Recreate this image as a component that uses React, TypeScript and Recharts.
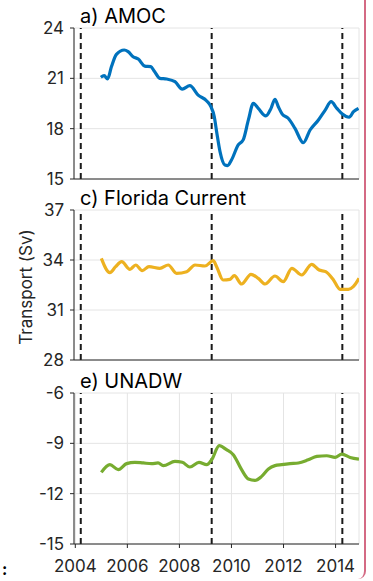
import React from 'react';
import { LineChart, Line, XAxis, YAxis, CartesianGrid, ReferenceLine } from 'recharts';

const xTicks = [2004, 2006, 2008, 2010, 2012, 2014];
const xDomain = [2003.95, 2014.9];
const eventYears = [2004.21, 2009.24, 2014.26];

const amocTicks = [15, 18, 21, 24];
const floridaTicks = [28, 31, 34, 37];
const unadwTicks = [-15, -12, -9, -6];

const amocYears = [2004.98, 2005.11, 2005.24, 2005.39, 2005.58, 2005.88, 2006.03, 2006.22, 2006.42, 2006.67, 2006.9, 2007.03, 2007.25, 2007.51, 2007.83, 2008.11, 2008.4, 2008.72, 2009.05, 2009.21, 2009.34, 2009.43, 2009.56, 2009.75, 2009.85, 2010.0, 2010.26, 2010.45, 2010.65, 2010.84, 2011.03, 2011.32, 2011.52, 2011.67, 2011.8, 2011.95, 2012.18, 2012.44, 2012.76, 2013.02, 2013.34, 2013.6, 2013.83, 2014.05, 2014.26, 2014.52, 2014.69, 2014.88];
const amocValues = [21.06, 21.16, 20.96, 21.7, 22.43, 22.69, 22.59, 22.29, 22.15, 21.73, 21.7, 21.44, 21.0, 20.96, 20.8, 20.36, 20.56, 20.0, 19.65, 19.31, 18.71, 17.82, 16.63, 15.83, 15.8, 16.13, 17.03, 17.33, 18.52, 19.51, 19.21, 18.76, 19.21, 19.75, 19.31, 18.87, 18.62, 18.02, 17.16, 17.92, 18.52, 19.11, 19.61, 19.21, 18.87, 18.68, 19.01, 19.21];

const floridaYears = [2005.0, 2005.33, 2005.55, 2005.78, 2006.1, 2006.32, 2006.57, 2006.83, 2007.25, 2007.57, 2007.89, 2008.28, 2008.6, 2008.98, 2009.3, 2009.43, 2009.68, 2009.94, 2010.11, 2010.39, 2010.75, 2011.03, 2011.29, 2011.67, 2011.99, 2012.32, 2012.7, 2013.08, 2013.37, 2013.62, 2013.92, 2014.17, 2014.49, 2014.68, 2014.9];
const floridaValues = [34.1, 33.24, 33.6, 33.9, 33.44, 33.7, 33.36, 33.6, 33.5, 33.7, 33.2, 33.3, 33.7, 33.64, 33.96, 33.6, 32.8, 32.84, 33.06, 32.56, 33.14, 32.9, 32.56, 33.04, 32.7, 33.5, 33.1, 33.74, 33.4, 33.3, 32.8, 32.24, 32.24, 32.4, 32.9];

const unadwYears = [2005.0, 2005.33, 2005.65, 2005.97, 2006.29, 2006.61, 2006.93, 2007.18, 2007.38, 2007.83, 2008.11, 2008.4, 2008.75, 2009.05, 2009.24, 2009.53, 2009.81, 2010.07, 2010.39, 2010.65, 2010.9, 2011.16, 2011.42, 2011.67, 2011.93, 2012.25, 2012.57, 2012.95, 2013.28, 2013.66, 2013.98, 2014.24, 2014.56, 2014.9];
const unadwValues = [-10.73, -10.27, -10.57, -10.21, -10.13, -10.17, -10.21, -10.17, -10.33, -10.08, -10.13, -10.41, -10.13, -10.27, -9.98, -9.14, -9.38, -9.68, -10.57, -11.13, -11.21, -10.97, -10.53, -10.33, -10.27, -10.21, -10.17, -9.98, -9.78, -9.74, -9.84, -9.64, -9.84, -9.94];

const FONT = 'Inter, "DejaVu Sans", sans-serif';
const AXIS = '#262626';
const GRID = '#e4e4e4';

const toPoints = (xs: number[], ys: number[]) => xs.map((x, i) => ({ x, y: ys[i] }));

type PanelProps = {
  top: number;
  height: number;
  marginTop: number;
  marginBottom: number;
  yTicks: number[];
  xs: number[];
  ys: number[];
  color: string;
  showXLabels: boolean;
  xAxisHeight: number;
};

function Panel({ top, height, marginTop, marginBottom, yTicks, xs, ys, color, showXLabels, xAxisHeight }: PanelProps) {
  const data = toPoints(xs, ys);
  return (
    <div style={{ position: 'absolute', left: 0, top, width: 373, height }}>
      <LineChart width={373} height={height} margin={{ top: marginTop, right: 14, bottom: marginBottom, left: 0 }}>
        <CartesianGrid stroke={GRID} strokeWidth={1} />
        <XAxis
          type="number"
          dataKey="x"
          domain={xDomain}
          ticks={xTicks}
          allowDataOverflow
          height={xAxisHeight}
          tickSize={4}
          tickMargin={showXLabels ? 12 : 0}
          axisLine={{ stroke: AXIS, strokeWidth: 1 }}
          tickLine={{ stroke: AXIS }}
          tick={showXLabels ? { fill: AXIS, fontSize: 17, fontFamily: FONT } : false}
          interval={0}
        />
        <YAxis
          type="number"
          domain={[yTicks[0], yTicks[yTicks.length - 1]]}
          ticks={yTicks}
          width={74}
          tickSize={4}
          tickMargin={6}
          axisLine={{ stroke: AXIS, strokeWidth: 1 }}
          tickLine={{ stroke: AXIS }}
          tick={{ fill: AXIS, fontSize: 17, fontFamily: FONT }}
          interval={0}
        />
        {eventYears.map((e) => (
          <ReferenceLine key={e} x={e} stroke="#1a1a1a" strokeWidth={2} strokeDasharray="6 4" />
        ))}
        <Line
          data={data}
          dataKey="y"
          type="monotone"
          stroke={color}
          strokeWidth={3.2}
          dot={false}
          isAnimationActive={false}
        />
      </LineChart>
    </div>
  );
}

export default function App() {
  return (
    <div style={{ position: 'absolute', left: 0, top: 0, width: 373, height: 581, background: '#fff', overflow: 'hidden' }}>
      <Panel top={0} height={197} marginTop={28} marginBottom={12} yTicks={amocTicks} xs={amocYears} ys={amocValues} color="#0072BD" showXLabels={false} xAxisHeight={6} />
      <Panel top={180} height={198} marginTop={30} marginBottom={12} yTicks={floridaTicks} xs={floridaYears} ys={floridaValues} color="#EDB120" showXLabels={false} xAxisHeight={6} />
      <Panel top={365} height={211} marginTop={28} marginBottom={0} yTicks={unadwTicks} xs={unadwYears} ys={unadwValues} color="#77AC30" showXLabels={true} xAxisHeight={32} />
      <svg width={373} height={581} style={{ position: 'absolute', left: 0, top: 0, pointerEvents: 'none' }}>
        <text x={80} y={23} fontSize={20} fontFamily={FONT} fill="#000">a) AMOC</text>
        <text x={80} y={205} fontSize={20} fontFamily={FONT} fill="#000">c) Florida Current</text>
        <text x={80} y={388} fontSize={20} fontFamily={FONT} fill="#000">e) UNADW</text>
        <text x={32} y={287} fontSize={17} fontFamily={FONT} fill={AXIS} textAnchor="middle" transform="rotate(-90 32 287)">Transport (Sv)</text>
        <text x={2} y={575} fontSize={16} fontWeight="bold" fontFamily={FONT} fill="#000">:</text>
      </svg>
      <div style={{ position: 'absolute', left: -12, top: -12, width: 378, height: 591, boxSizing: 'border-box', borderRight: '2px solid #d46a84', borderRadius: '0 8px 8px 0' }} />
    </div>
  );
}
